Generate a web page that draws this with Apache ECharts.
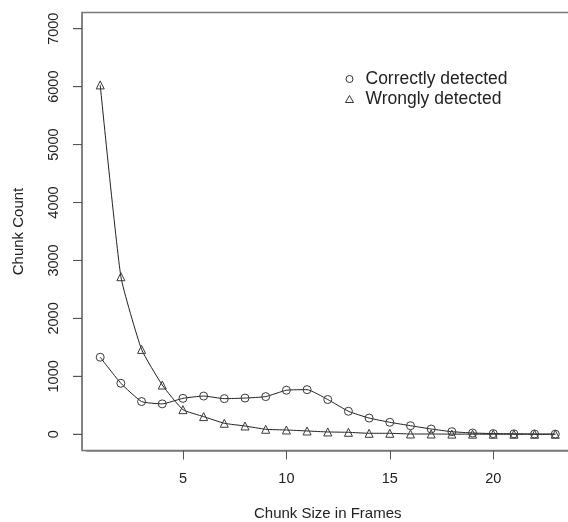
<!DOCTYPE html>
<html>
<head>
<meta charset="utf-8">
<script src="https://cdn.jsdelivr.net/npm/echarts@6/dist/echarts.min.js"></script>
<style>
html,body{margin:0;padding:0;background:#fff;}
#chart{width:568px;height:522px;}
</style>
</head>
<body>
<div id="chart"></div>
<script>
var chunkSizes = [1,2,3,4,5,6,7,8,9,10,11,12,13,14,15,16,17,18,19,20,21,22,23];
var correctlyDetected = [1330,880,565,525,620,660,615,625,650,760,770,600,397,280,207,148,91,45,22,12,8,5,3];
var wronglyDetected = [6030,2720,1465,850,425,305,190,143,86,74,57,40,34,17,17,5,5,3,2,1,1,0,0];
var xTickStep = 5;      // ticks 5, 10, 15, 20
var yTickStep = 1000;   // ticks 0 ... 7000
var yTickValues = [0,1000,2000,3000,4000,5000,6000,7000];
var seriesNames = ['Correctly detected','Wrongly detected'];

function pairs(xs, ys){ return xs.map(function(x,i){ return [x, ys[i]]; }); }
function plain(v){ return String(v); }

var font = 'Liberation Sans, Arial, Helvetica, sans-serif';
var covers = [
  {id:'c1', type:'rect', z:100, silent:true, shape:{x:68, y:447.5, width:13.1, height:6}, style:{fill:'#fff'}},
  {id:'c2', type:'rect', z:100, silent:true, shape:{x:68, y:9.5, width:13.1, height:6}, style:{fill:'#fff'}},
  {id:'c3', type:'rect', z:100, silent:true, shape:{x:78, y:451.4, width:8, height:12}, style:{fill:'#fff'}}
];
var chart = echarts.init(document.getElementById('chart'), null, {renderer:'canvas'});
chart.setOption({
  animation:false,
  backgroundColor:'#fff',
  grid:{left:82, top:12.5, width:491.5, height:438, show:true, borderColor:'#7a7a7a', borderWidth:1.5, backgroundColor:'transparent', containLabel:false, outerBoundsMode:'none'},
  xAxis:{
    type:'value', min:0.12, max:23.88, minInterval:xTickStep, maxInterval:xTickStep,
    name:'Chunk Size in Frames', nameLocation:'middle', nameGap:56,
    nameTextStyle:{fontFamily:font, fontSize:15, color:'#222'},
    axisLine:{show:true, onZero:false, lineStyle:{color:'#7a7a7a', width:1.5}},
    splitLine:{show:false},
    axisTick:{show:true, inside:false, length:9, lineStyle:{color:'#555', width:1}},
    axisLabel:{show:true, margin:21, fontFamily:font, fontSize:14.5, color:'#222', showMinLabel:false, showMaxLabel:false, formatter:plain}
  },
  yAxis:{
    type:'value', position:'left', min:-280, max:7280, minInterval:yTickStep, maxInterval:yTickStep,
    name:'Chunk Count', nameLocation:'middle', nameGap:56, nameRotate:90,
    nameTextStyle:{fontFamily:font, fontSize:15, color:'#222'},
    axisLine:{show:true, onZero:false, lineStyle:{color:'#7a7a7a', width:1.5}},
    splitLine:{show:false},
    axisTick:{show:true, inside:false, length:9, lineStyle:{color:'#555', width:1}},
    axisLabel:{show:true, rotate:90, margin:21, fontFamily:font, fontSize:14.5, color:'#222', showMinLabel:false, showMaxLabel:false, formatter:plain}
  },
  graphic:covers,
  legend:{
    orient:'vertical', left:340, top:64, itemGap:0, itemWidth:8, itemHeight:7,
    selectedMode:false,
    textStyle:{fontFamily:font, fontSize:17.5, color:'#222', lineHeight:20, padding:[0,0,0,7]},
    data:[
      {name:seriesNames[0], icon:'circle', itemStyle:{color:'transparent', borderColor:'#333', borderWidth:1}},
      {name:seriesNames[1], icon:'triangle', itemStyle:{color:'transparent', borderColor:'#333', borderWidth:1}}
    ]
  },
  series:[
    {
      name:seriesNames[0], type:'line', data:pairs(chunkSizes, correctlyDetected),
      smooth:0.15, symbol:'circle', symbolSize:8, showAllSymbol:true,
      lineStyle:{color:'#222', width:1},
      itemStyle:{color:'transparent', borderColor:'#3a3a3a', borderWidth:1},
      emphasis:{disabled:true}
    },
    {
      name:seriesNames[1], type:'line', data:pairs(chunkSizes, wronglyDetected),
      smooth:0.15, symbol:'triangle', symbolSize:8, showAllSymbol:true,
      lineStyle:{color:'#222', width:1},
      itemStyle:{color:'transparent', borderColor:'#3a3a3a', borderWidth:1},
      emphasis:{disabled:true}
    }
  ]
});

// y-axis tick marks placed through the axis scale (fallback in case the axis omits them)
var tickLines = yTickValues.map(function(v, i){
  var py = chart.convertToPixel({yAxisIndex:0}, v);
  return {id:'yt'+i, type:'line', z:50, silent:true,
    shape:{x1:73, y1:py, x2:82, y2:py},
    style:{stroke:'#555', lineWidth:1}};
});
chart.setOption({graphic: covers.concat(tickLines)});
</script>
</body>
</html>
